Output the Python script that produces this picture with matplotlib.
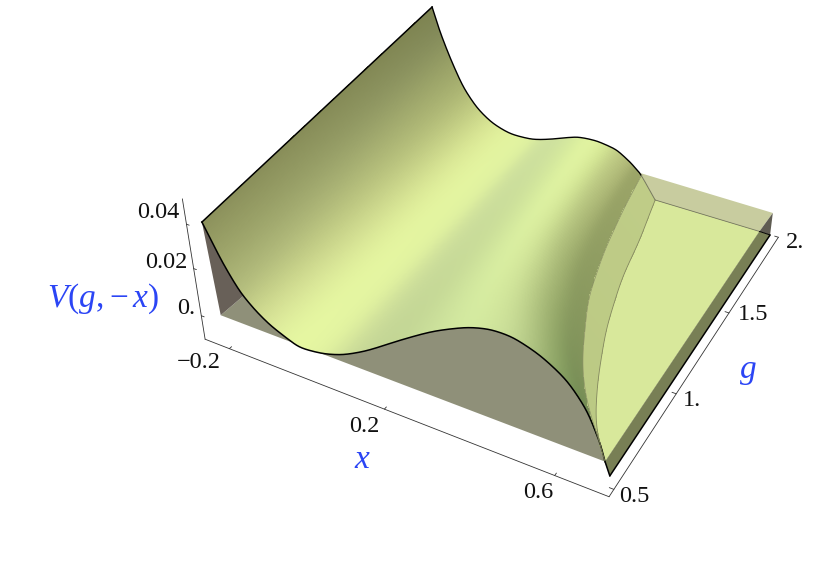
#!/usr/bin/env python3
import numpy as np
import matplotlib
matplotlib.use("Agg")
import matplotlib.pyplot as plt
from matplotlib.colors import to_rgb

plt.rcParams['font.family'] = ['Liberation Serif', 'DejaVu Serif']
plt.rcParams['mathtext.fontset'] = 'custom'
plt.rcParams['mathtext.rm'] = 'Liberation Serif'
plt.rcParams['mathtext.it'] = 'Liberation Serif:italic'

# profile at the front edge g = 0.5 and the back edge g = 2, stop by stop
front_x = [-.238, -.197, -.160, -.125, -.090, -.050, -.017, .045, .102, .173,
           .277, .379, .480, .544, .601, .659, .707, .730, .731, .725]
front_v = [.0404, .0245, .0137, .0080, .0039, .0010, -.0011, .0001, .0029, .0085,
           .0187, .0281, .0354, .0382, .0383, .0346, .0279, .0182, .0067, .0]
back_x = [-.097, -.104, -.104, -.098, -.077, -.044, .005, .069, .105, .150,
          .195, .238, .270, .302, .330, .357, .382, .390, .398, .404]
back_v = [.0836, .0661, .0490, .0310, .0194, .0124, .0087, .0093, .0110, .0138,
          .0170, .0198, .0207, .0210, .0202, .0190, .0138, .0110, .0087, -.0053]
front_colors = ['#8c915c', '#a0a86c', '#b4bd7e', '#cbd68c', '#dbe79a', '#e4f5a0', '#e6f7a2',
                '#e2f3a0', '#d0e09a', '#c4d696', '#c2d594', '#cbe09b', '#d5eca2', '#d0e59c',
                '#c6da96', '#a3b878', '#7b9659', '#6a8550', '#b9c882', '#b9c882']
back_colors = ['#7d8350', '#82895a', '#969e64', '#aab372', '#c4cf84', '#dbe896', '#e4f5a0',
               '#e0f2a0', '#d2e49e', '#cde09e', '#d2e59e', '#d8ec9e', '#e1f4a0', '#e0f2a0',
               '#d5e794', '#c3cf88', '#b0b877', '#9ca568', '#bfcc87', '#bfcc87']

# where the lighter band starts and where the surface reaches the plate, as g grows
inner_g = [.5, .657, .819, 1.144, 1.436, 1.742, 2.]
inner_x = [.731, .651, .591, .505, .458, .422, .398]
edge_g = [.5, .613, .821, 1.104, 1.421, 1.692, 2.]
edge_x = [.725, .668, .609, .543, .487, .454, .404]
plate_g = [.498, .613, .821, 1.104, 1.421, 1.692, 1.942]
plate_x = [.725, .668, .609, .543, .487, .454, .434]

x_ticks = [-.2, .2, .6]
g_ticks = [.5, 1., 1.5, 2.05]
v_ticks = [0., .02, .04]

BLUE = '#2b45f5'
# camera fitted on the axis ticks, columns are x, g, 25*V, 1
CAMERA = np.array([[375.95949, 244.14547, -3.43851, 211.113],
                   [114.97027, -117.69404, -86.34494, 437.6371],
                   [-0.12207, 0.17934, 0.07038, 1.0]])


def project(x, g, v):
    x, g, v = np.broadcast_arrays(np.asarray(x, float), np.asarray(g, float), np.asarray(v, float))
    pts = np.stack([x, g, v * 25, np.ones_like(x)], axis=-1) @ CAMERA.T
    return pts[..., 0] / pts[..., 2], pts[..., 1] / pts[..., 2]


def smooth(a, n=21, passes=2):
    # odd reflection keeps both end points where they are
    for _ in range(passes):
        pad = np.pad(a, n, mode='reflect', reflect_type='odd')
        a = np.convolve(pad, np.ones(n) / n, mode='same')[n:-n]
    return a


def poly(ax, x, g, v, **kw):
    u, w = project(x, g, v)
    ax.fill(u, w, **kw)


def line(ax, x, g, v, **kw):
    u, w = project(x, g, v)
    ax.plot(u, w, solid_capstyle='round', **kw)


fig = plt.figure(figsize=(8.30, 5.64), dpi=100)
ax = fig.add_axes([0, 0, 1, 1])
ax.set_xlim(0, 830)
ax.set_ylim(564, 0)
ax.axis('off')

# box, floor and left wall seen under the surface
poly(ax, [-.23, .725, .722, -.23], [.5, .5, 1.945, 2.], [0, 0, 0, 0], color='#8f9079', lw=0, zorder=1)
poly(ax, [-.238, -.23, -.23, -.097], [.5, .5, 2., 2.], [.0404, 0, 0, .0836], color='#686058', lw=0, zorder=2)

# plate on the right
poly(ax, plate_x + [.722], plate_g + [1.945], [0] * 8, color='#d8e89b', lw=0, zorder=3)
poly(ax, [.398, .434, .722, .724], [2., 1.942, 1.945, 2.096], [.0087, 0, 0, 0], color='#c8cc9f', lw=0, zorder=3)
poly(ax, [.724, .722, .751], [2.096, 1.945, 1.943], [0, 0, 0], color='#5f5c52', lw=0, zorder=3)
poly(ax, [.725, .723, .751, .722], [.498, .5, 1.943, 1.945], [0, -.0049, 0, 0], color='#787f55', lw=0, zorder=3)
line(ax, [.723, .751], [.5, 1.943], [-.0049, 0], color='black', lw=1.1, zorder=6)
line(ax, [.722, .751], [1.945, 1.943], [0, 0], color='black', lw=.7, zorder=6)
line(ax, [.434, .722], [1.942, 1.945], [0, 0], color='#77795f', lw=.6, zorder=4)

# surface mesh
n_stops = len(front_x)
t_fine = np.linspace(0, n_stops - 1, 600)
t_stops = np.arange(n_stops)
g_rows = np.linspace(.5, 2., 90)
w_lin = (g_rows - .5) / 1.5
w_inner = (inner_x[0] - smooth(np.interp(g_rows, inner_g, inner_x), 9)) / (inner_x[0] - inner_x[-1])
w_edge = (edge_x[0] - smooth(np.interp(g_rows, edge_g, edge_x), 9)) / (edge_x[0] - edge_x[-1])

band_start = 18
fx = smooth(np.interp(t_fine, t_stops, front_x))
fv = smooth(np.interp(t_fine, t_stops, front_v))
bx = smooth(np.interp(t_fine, t_stops, back_x))
bv = smooth(np.interp(t_fine, t_stops, back_v))
blend = np.clip((t_fine - 10) / 7, 0, 1)[None, :]
to_edge = np.clip(t_fine - band_start, 0, 1)[None, :]
w_target = w_inner[:, None] * (1 - to_edge) + w_edge[:, None] * to_edge
wx = w_lin[:, None] + blend * (w_target - w_lin[:, None])
wv = w_lin[:, None] + blend * (w_target ** 3 - w_lin[:, None])
X = fx[None, :] * (1 - wx) + bx[None, :] * wx
V = fv[None, :] * (1 - wv) + bv[None, :] * wv
G = np.repeat(g_rows[:, None], len(t_fine), axis=1)
U, W = project(X, G, V)

# colours run smoothly up to the band, the band itself starts with a hard edge
i_band = np.searchsorted(t_fine, band_start)
t_col = np.where(t_fine < band_start, np.minimum(t_fine, band_start - 1), t_fine)
front_rgb = np.array([to_rgb(c) for c in front_colors])
back_rgb = np.array([to_rgb(c) for c in back_colors])
fc = np.stack([np.interp(t_col, t_stops, front_rgb[:, i]) for i in range(3)], axis=1)
bc = np.stack([np.interp(t_col, t_stops, back_rgb[:, i]) for i in range(3)], axis=1)
for i in range(3):
    fc[:i_band, i] = smooth(fc[:i_band, i], 31, 2)
    bc[:i_band, i] = smooth(bc[:i_band, i], 31, 2)
w_col = (w_lin[:, None] + blend * (w_lin[:, None] ** .5 - w_lin[:, None]))[:, :, None]
C = np.clip(fc[None, :, :] * (1 - w_col) + bc[None, :, :] * w_col, 0, 1)
ax.pcolormesh(U, W, C[:-1, :-1], shading='flat', antialiased=False, linewidth=0, zorder=5)

# surface outlines
ax.plot(U[0], W[0], color='black', lw=1.1, zorder=6)
ax.plot(U[-1, :i_band + 1], W[-1, :i_band + 1], color='black', lw=1.0, zorder=6)
ax.plot(U[-1, i_band:], W[-1, i_band:], color='#77795f', lw=.7, zorder=6)
ax.plot(U[:, 0], W[:, 0], color='black', lw=1.1, zorder=6)
ax.plot(U[:, i_band], W[:, i_band], color='#8c9266', lw=.5, zorder=6)
ax.plot(U[:, -1], W[:, -1], color='#84885f', lw=.6, zorder=6)
line(ax, [.725, .723], [.5, .5], [0, -.0049], color='black', lw=1.1, zorder=6)

# axes
AXC = '#333333'
xl, xr, gf, vb = -.266, .72, .465, -.0095
line(ax, [xl, xr], [gf, gf], [vb, vb], color=AXC, lw=.6, zorder=7)
line(ax, [xr, xr], [gf, 2.05], [vb, vb], color=AXC, lw=.6, zorder=7)
line(ax, [xl, xl], [gf, gf], [vb, .052], color=AXC, lw=.6, zorder=7)
for t in x_ticks:
    line(ax, [t, t], [gf, gf + .012], [vb, vb], color=AXC, lw=.6, zorder=7)
for t in g_ticks:
    line(ax, [xr, xr - .01], [t, t], [vb, vb], color=AXC, lw=.6, zorder=7)
for t in v_ticks:
    line(ax, [xl, xl + .008], [gf, gf], [t, t], color=AXC, lw=.6, zorder=7)

tick_kw = dict(fontsize=17.5, color='#111111', ha='center', va='center', zorder=8)
ax.text(158, 213, '0.04', **tick_kw)
ax.text(166, 262, '0.02', **tick_kw)
ax.text(186, 308, '0.', **tick_kw)
ax.text(199, 363, '\u22120.2', **tick_kw)
ax.text(364, 426, '0.2', **tick_kw)
ax.text(538, 492, '0.6', **tick_kw)
ax.text(634, 496, '0.5', **tick_kw)
ax.text(692, 400, '1.', **tick_kw)
ax.text(753, 315, '1.5', **tick_kw)
ax.text(795, 243, '2.', **tick_kw)

label_kw = dict(fontsize=24, color=BLUE, ha='center', va='center', zorder=8)
ax.text(103, 299, r'$V(g,\!-x)$', **label_kw)
ax.text(362, 460, r'$x$', **label_kw)
ax.text(748, 372, r'$g$', **label_kw)

fig.savefig('out.png', dpi=100, facecolor='white')
